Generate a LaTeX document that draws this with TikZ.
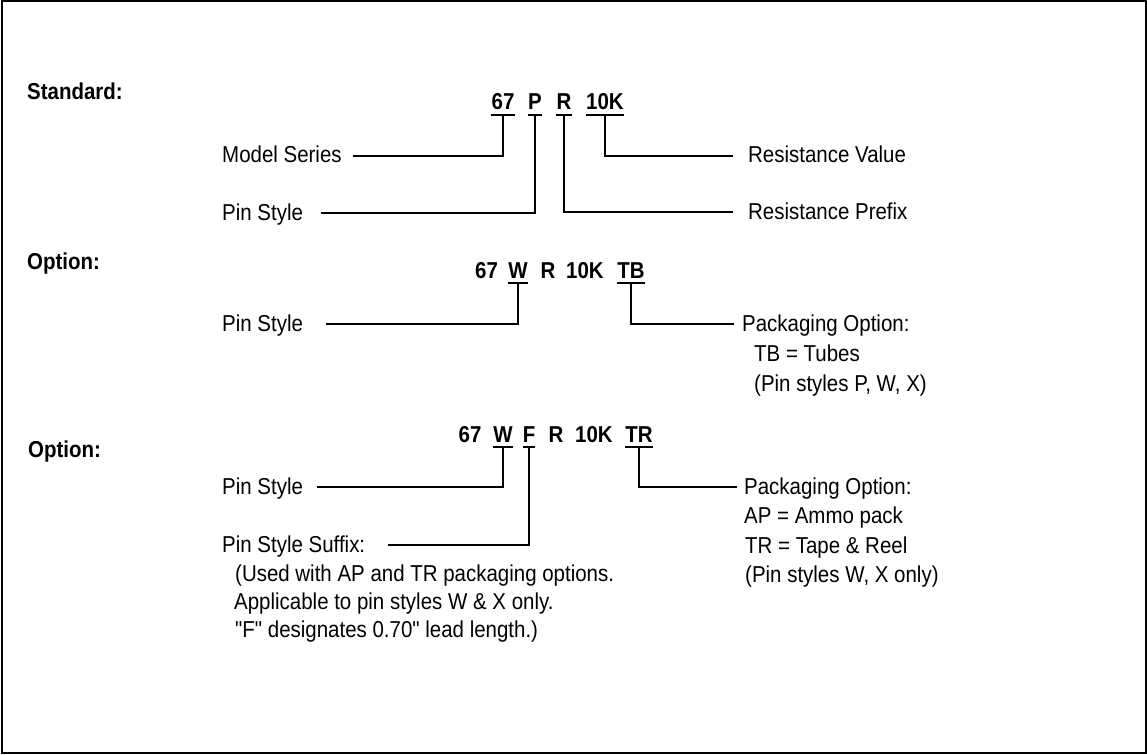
\documentclass[tikz,border=0pt]{standalone}
\usepackage{fontspec}
\usetikzlibrary{calc}
\newfontfamily\condf{Liberation Sans}[FakeStretch=0.89]
\begin{document}
\begin{tikzpicture}[x=1pt,y=-1pt,
  lbl/.style={font=\condf\fontsize{23}{27}\selectfont, inner sep=0pt, anchor=base west},
  head/.style={font=\condf\fontsize{23}{27}\selectfont\bfseries, inner sep=0pt, anchor=base west},
  seg/.style={font=\condf\fontsize{23}{27}\selectfont\bfseries, inner sep=0pt, anchor=base},
  wire/.style={line width=1.3pt, line cap=rect},
  uline/.style={line width=1.3pt}]
\useasboundingbox (0,0) rectangle (1147,754);
\draw[line width=2pt] (1.5,1.5) rectangle (1145.5,752.5);

% headings
\node[head] (hstd) at (27,100) {Standard:};
\node[head] (hopt1) at (27,269) {Option:};
\node[head] (hopt2) at (28,457) {Option:};

% ---------- Standard ----------
\node[seg] (a67) at (503,110) {67};
\node[seg] (aP) at (535,110) {P};
\node[seg] (aR) at (564,110) {R};
\node[seg] (a10K) at (605,110) {10K};
\foreach \n in {a67,aP,aR,a10K}
  \draw[uline] ([yshift=-5pt]\n.base west) -- ([yshift=-5pt]\n.base east);

\node[lbl] (ms) at (222,163) {Model Series};
\node[lbl] (ps1) at (222,220) {Pin Style};
\node[lbl] (rv) at (748,163) {Resistance Value};
\node[lbl] (rp) at (748,219) {Resistance Prefix};
\coordinate (msE) at ($(ms.base east)+(12,-7)$);
\coordinate (ps1E) at (322,213);
\coordinate (rvW) at (732,156);
\coordinate (rpW) at (732,212);
\draw[wire] ([yshift=-5pt]a67.base) |- (msE);
\draw[wire] ([yshift=-5pt]aP.base) |- (ps1E);
\draw[wire] ([yshift=-5pt]aR.base) |- (rpW);
\draw[wire] ([yshift=-5pt]a10K.base) |- (rvW);

% ---------- Option 1 ----------
\node[seg] (b67) at (486.5,278) {67};
\node[seg] (bW) at (518,278) {W};
\node[seg] (bR) at (548,278) {R};
\node[seg] (b10K) at (585,278) {10K};
\node[seg] (bTB) at (631,278) {TB};
\foreach \n in {bW,bTB}
  \draw[uline] ([yshift=-5pt]\n.base west) -- ([yshift=-5pt]\n.base east);

\node[lbl] (ps2) at (222,331) {Pin Style};
\node[lbl] (po1) at (742,331) {Packaging Option:};
\node[lbl] (tb) at (754,361) {TB = Tubes};
\node[lbl] (pspwx) at (754,391) {(Pin styles P, W, X)};
\coordinate (ps2E) at (327,324);
\coordinate (po1W) at (733,324);
\draw[wire] ([yshift=-5pt]bW.base) |- (ps2E);
\draw[wire] ([yshift=-5pt]bTB.base) |- (po1W);

% ---------- Option 2 ----------
\node[seg] (c67) at (470,442) {67};
\node[seg] (cW) at (503,442) {W};
\node[seg] (cF) at (529,442) {F};
\node[seg] (cR) at (556,442) {R};
\node[seg] (c10K) at (594,442) {10K};
\node[seg] (cTR) at (639,442) {TR};
\foreach \n in {cW,cF,cTR}
  \draw[uline] ([yshift=-5pt]\n.base west) -- ([yshift=-5pt]\n.base east);

\node[lbl] (ps3) at (222,494) {Pin Style};
\node[lbl] (suf) at (222,552) {Pin Style Suffix:};
\node[lbl] (u1) at (235,581) {(Used with AP and TR packaging options.};
\node[lbl] (u2) at (234,609) {Applicable to pin styles W \& X only.};
\node[lbl] (u3) at (235,637) {"F" designates 0.70" lead length.)};
\node[lbl] (po2) at (744,494) {Packaging Option:};
\node[lbl] (ap) at (744,523) {AP = Ammo pack};
\node[lbl] (trl) at (745,553) {TR = Tape \& Reel};
\node[lbl] (pswx) at (745,582) {(Pin styles W, X only)};
\coordinate (ps3E) at (318,487);
\coordinate (sufE) at (389,545);
\coordinate (po2W) at (736,487);
\draw[wire] ([yshift=-5pt]cW.base) |- (ps3E);
\draw[wire] ([yshift=-5pt]cF.base) |- (sufE);
\draw[wire] ([yshift=-5pt]cTR.base) |- (po2W);
\end{tikzpicture}
\end{document}
